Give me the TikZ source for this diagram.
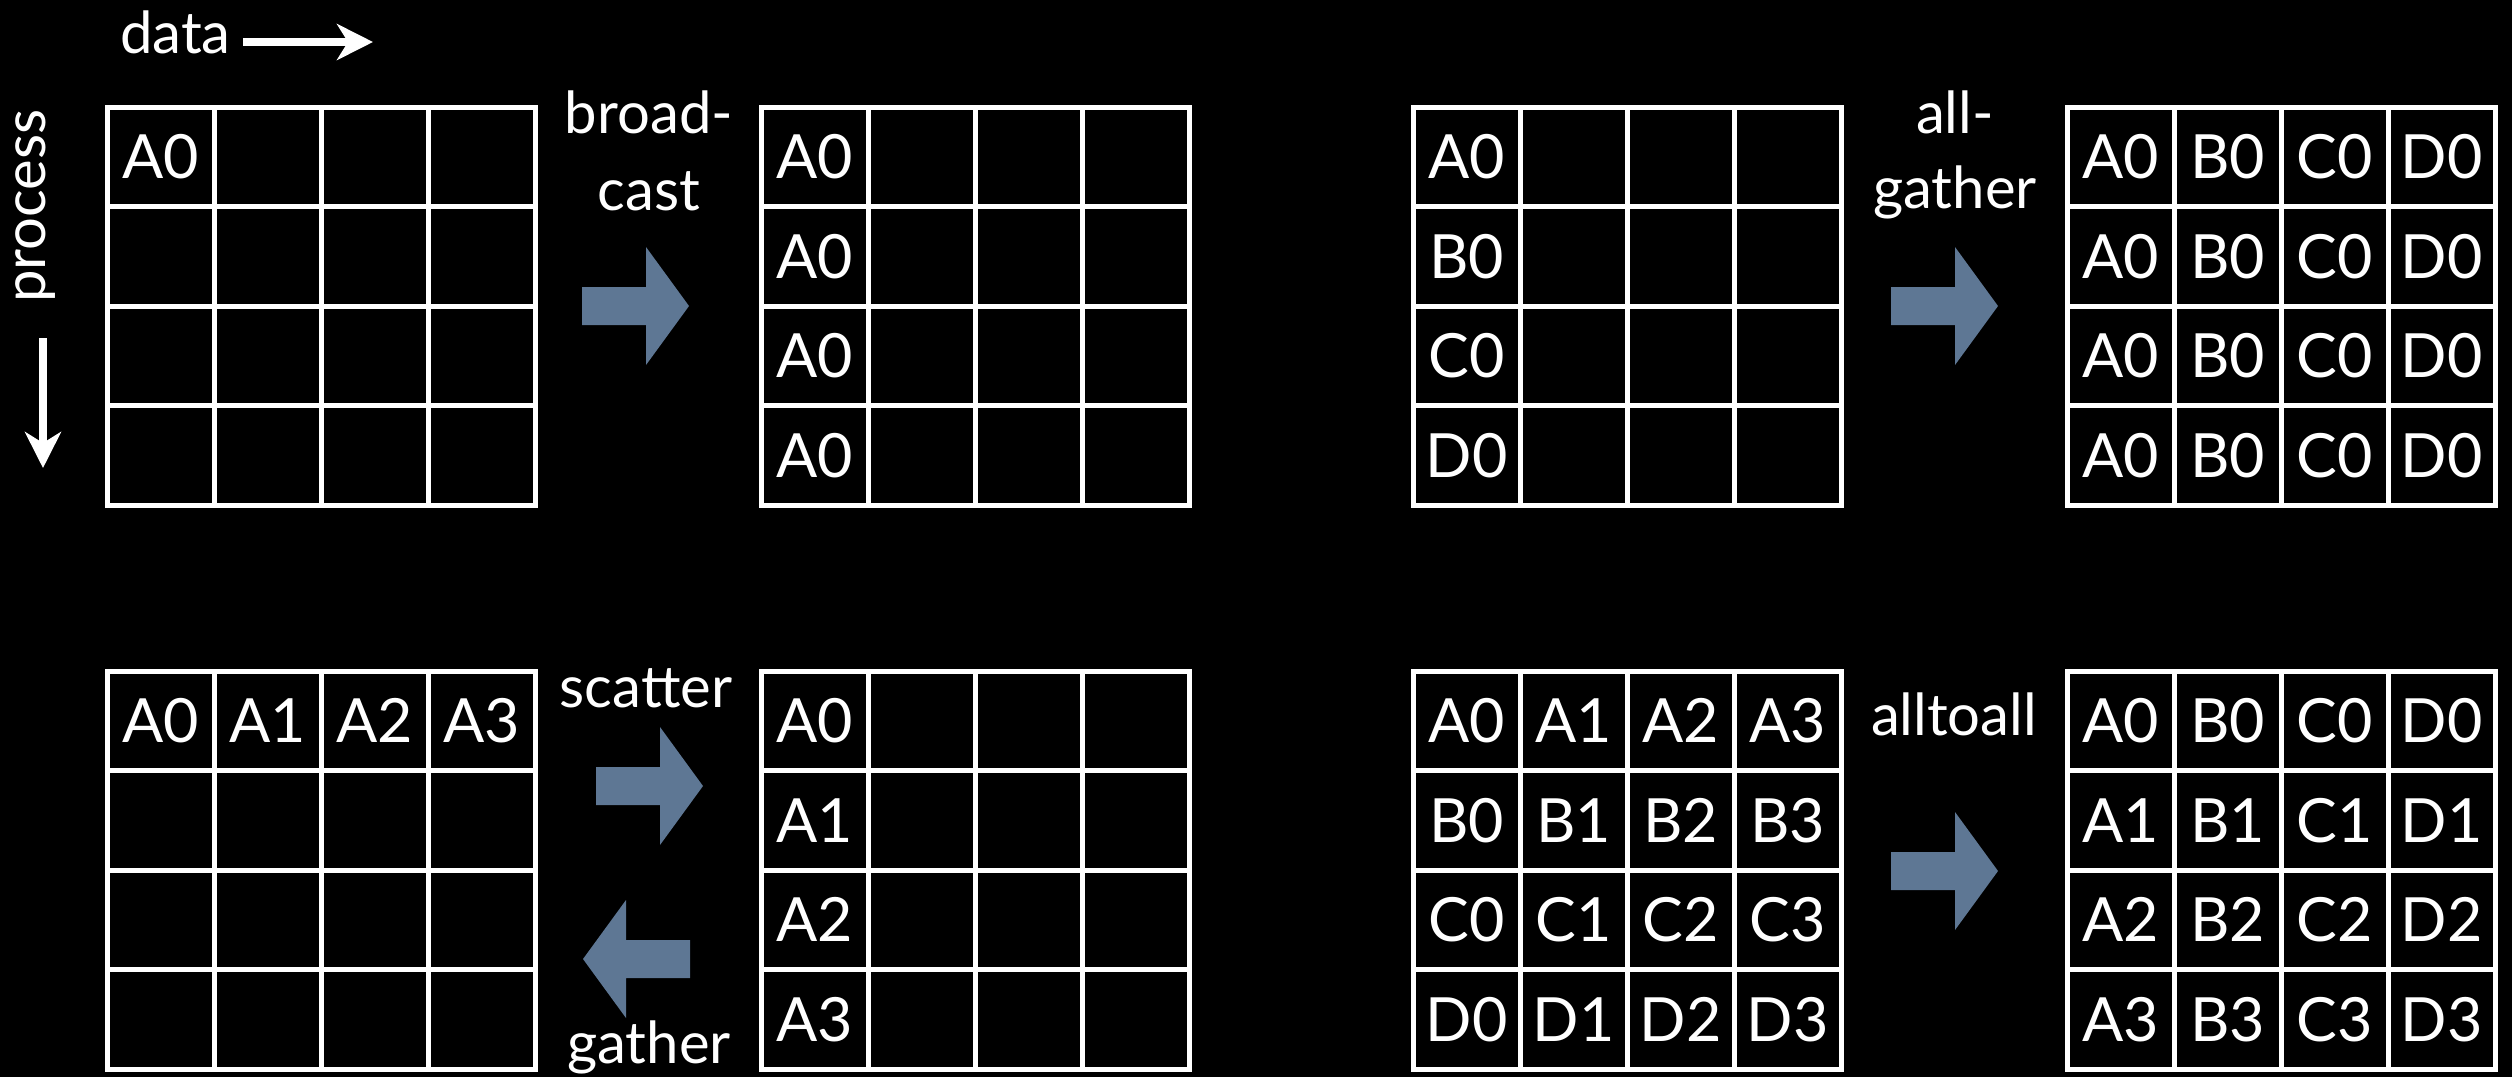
\documentclass[tikz,border=0pt]{standalone}
\usepackage{fontspec}
\setmainfont{Lato}
\usetikzlibrary{arrows.meta}
\definecolor{arrowblue}{RGB}{94,119,148}
\tikzset{
  cell/.style={draw=white, line width=5pt, minimum width=107pt, minimum height=99.5pt,
    inner sep=0pt, outer sep=0pt, text=white, font=\fontsize{61}{70}\selectfont},
  lbl/.style={text=white, inner sep=0pt, font=\fontsize{58}{68}\selectfont},
  bigarrow/.style={fill=arrowblue},
  thinarrow/.style={draw=white, line width=8pt, -{Stealth[length=36pt, width=36pt, inset=11pt]}}
}
\newcommand\MakeGrid[4]{%
  \foreach \t [count=\i from 0] in {#4}{%
    \pgfmathtruncatemacro\rr{div(\i,4)}%
    \pgfmathtruncatemacro\cc{mod(\i,4)}%
    \node[cell] (#1-\rr-\cc) at ({#2+(\cc+0.5)*107},{#3+(\rr+0.5)*99.5}) {\t};
  }}
\newcommand\ArrowRight[2]{% x0 yc
  \fill[bigarrow] ({#1},{#2-19}) -- ({#1+64},{#2-19}) -- ({#1+64},{#2-59}) -- ({#1+107},{#2})
    -- ({#1+64},{#2+59}) -- ({#1+64},{#2+19}) -- ({#1},{#2+19}) -- cycle;}
\newcommand\ArrowLeft[2]{% x-right yc
  \fill[bigarrow] ({#1},{#2-19}) -- ({#1-64},{#2-19}) -- ({#1-64},{#2-59}) -- ({#1-107},{#2})
    -- ({#1-64},{#2+59}) -- ({#1-64},{#2+19}) -- ({#1},{#2+19}) -- cycle;}
\begin{document}
\begin{tikzpicture}[x=1pt, y=-1pt]
\fill[black] (0,0) rectangle (2512,1077);
\useasboundingbox (0,0) rectangle (2512,1077);

% axis labels
\node[lbl, anchor=base west] (data) at (120,53) {data};
\coordinate (dataS) at (243,42);
\coordinate (dataE) at (373,42);
\draw[thinarrow] (dataS) -- (dataE);
\node[lbl, rotate=90] (process) at (36,206) {process};
\coordinate (procS) at (43,338);
\coordinate (procE) at (43,468);
\draw[thinarrow] (procS) -- (procE);

% top row
\MakeGrid{g1}{107}{107}{A0,{},{},{},{},{},{},{},{},{},{},{},{},{},{},{}}
\MakeGrid{g2}{761}{107}{A0,{},{},{},A0,{},{},{},A0,{},{},{},A0,{},{},{}}
\MakeGrid{g3}{1413}{107}{A0,{},{},{},B0,{},{},{},C0,{},{},{},D0,{},{},{}}
\MakeGrid{g4}{2067}{107}{A0,B0,C0,D0,A0,B0,C0,D0,A0,B0,C0,D0,A0,B0,C0,D0}

% bottom row
\MakeGrid{g5}{107}{671}{A0,A1,A2,A3,{},{},{},{},{},{},{},{},{},{},{},{}}
\MakeGrid{g6}{761}{671}{A0,{},{},{},A1,{},{},{},A2,{},{},{},A3,{},{},{}}
\MakeGrid{g7}{1413}{671}{A0,A1,A2,A3,B0,B1,B2,B3,C0,C1,C2,C3,D0,D1,D2,D3}
\MakeGrid{g8}{2067}{671}{A0,B0,C0,D0,A1,B1,C1,D1,A2,B2,C2,D2,A3,B3,C3,D3}

% operation labels
\node[lbl, anchor=base] (bc1) at (649,133) {broad-};
\node[lbl, anchor=base] (bc2) at (649,210) {cast};
\node[lbl, anchor=base] (ag1) at (1955,133) {all-};
\node[lbl, anchor=base] (ag2) at (1955,208) {gather};
\node[lbl, anchor=base] (sc) at (646,707) {scatter};
\node[lbl, anchor=base] (ga) at (649,1063) {gather};
\node[lbl, anchor=base] (aa) at (1954,735) {alltoall};

% big arrows
\ArrowRight{582}{306}
\ArrowRight{1891}{306}
\ArrowRight{596}{786}
\ArrowLeft{690}{959}
\ArrowRight{1891}{871}
\end{tikzpicture}
\end{document}
